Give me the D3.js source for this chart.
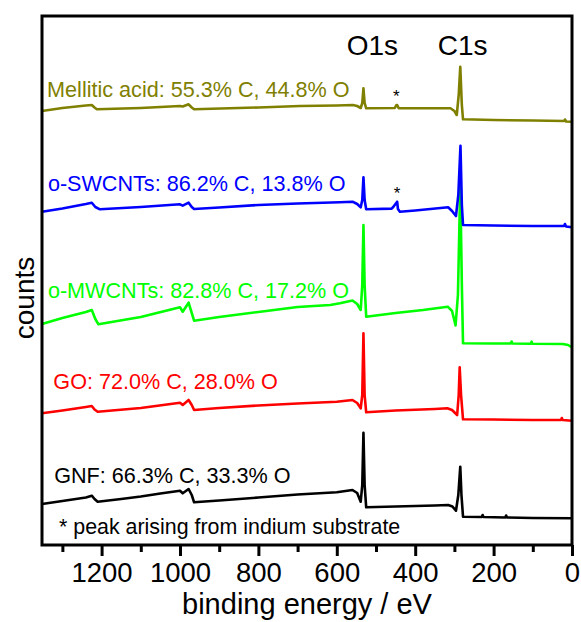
<!DOCTYPE html>
<html>
<head>
<meta charset="utf-8">
<script src="https://cdn.jsdelivr.net/npm/d3@7/dist/d3.min.js"></script>
<style>
  html, body { margin: 0; padding: 0; background: #fff; }
  svg { display: block; font-family: "Liberation Sans", Arial, sans-serif; }
</style>
</head>
<body>
<svg id="chart" width="581" height="622"></svg>
<script>
// ---- data: [binding energy (eV), counts (a.u.)] ----
const gnf = [[1352,41],[1300,44],[1240,47.5],[1225,49.3],[1218,46],[1210,43.3],[1150,46],[1100,48.5],[1050,51.5],[1000,54.3],[993,51.7],[978,56],[970,50],[964,42.7],[900,44.5],[800,47.5],[700,50.5],[600,52.7],[560,55],[548,52],[539,43.3],[535,60],[532,112.3],[529,60],[525,37.7],[450,38.5],[350,39.5],[316,40],[305,38.5],[296,34.3],[290,50],[285,78.3],[282,50],[278,28.3],[230,28],[228,30],[226,28],[170,27.5],[168,29.5],[166,27.5],[100,27],[0,26.7]];
const go = [[1352,131.7],[1300,134.5],[1240,138],[1225,139],[1218,135.5],[1210,133.3],[1100,137],[1000,142.3],[993,140],[978,145],[970,140],[964,135],[900,137],[800,139.5],[700,141.5],[600,143.3],[560,145],[548,142],[539,136.7],[535,150],[532,211.7],[529,150],[525,132.7],[450,134.5],[350,136],[318,136.7],[306,135],[293,130],[289,150],[286.5,177.7],[283,150],[278,125.7],[200,125.5],[100,125],[28,125],[26,127],[24,125],[0,124.3]];
const omwcnt = [[1352,221],[1300,227],[1240,233],[1225,235],[1216,226],[1208,220.7],[1100,228],[1000,237.7],[993,233.3],[978,242.3],[970,232],[964,224.3],[900,228],[800,233],[700,238],[617,240],[592,241.7],[560,244.5],[548,241],[539,235],[535,260],[532,320],[529,260],[525,228.3],[450,232],[380,235],[317,238.3],[306,234],[297,219.5],[291,250],[285,360],[281,260],[278,201.7],[200,201.5],[156,201.5],[154,203.5],[152,201.5],[105,201.3],[103,203.3],[101,201.3],[23,201],[10,200],[0,197.7]];
const oswcnt = [[1352,333.3],[1300,336.5],[1240,341],[1225,342.3],[1216,338],[1204,335.7],[1100,338],[1000,340.7],[993,339.3],[978,342.3],[970,338],[964,336],[900,337.5],[800,340],[700,341.5],[592,342.7],[560,343.3],[548,341],[539,337.7],[535,345],[532,367.7],[529,345],[525,335.7],[460,336.4],[456,338],[446,343.3],[444,336],[439,333.3],[400,334.5],[316,337.7],[306,334],[296,329],[290,350],[284.5,399.3],[281,340],[278,320],[200,319.5],[100,319],[20,319],[18,321],[15,318.5],[0,317.7]];
const mellitic = [[1352,434],[1300,437],[1240,439.5],[1225,440],[1218,437.5],[1212,435.7],[1100,437],[1000,439],[993,438.5],[978,440.7],[970,437.5],[964,435.7],[800,437.5],[694,439],[600,439.5],[559,440],[548,439],[539,437],[535,442],[532,456.7],[529,442],[525,436.7],[452,437],[448,440],[446,440],[442,436.7],[400,436.7],[310,436.7],[300,434],[294,430],[289,450],[285,478.3],[281,440],[278,425.7],[200,425],[100,424.5],[20,424],[18,425.5],[15,423.5],[0,423.3]];

const seriesNames = ["GNF","GO","o-MWCNTs","o-SWCNTs","Mellitic acid"];
const seriesLabels = ["GNF: 66.3% C, 33.3% O","GO: 72.0% C, 28.0% O","o-MWCNTs: 82.8% C, 17.2% O","o-SWCNTs: 86.2% C, 13.8% O","Mellitic acid: 55.3% C, 44.8% O"];
const seriesColors = ["#000000","#ff0000","#00ff00","#0000ff","#808000"];
const seriesData = [gnf, go, omwcnt, oswcnt, mellitic];
const labelCounts = [61.7, 155.7, 246.7, 354, 448.5];   // label baseline in counts units
const labelBE = [1321, 1323, 1337, 1337, 1339];

const majorTicks = [0,200,400,600,800,1000,1200];
const minorTicks = [100,300,500,700,900,1100,1300];
const peakNames = ["O1s","C1s"];
const peakBE = [532, 284];
const substrateBE = [448, 446];
const substrateCounts = [443, 346];
const footnote = "* peak arising from indium substrate";

// ---- layout ----
const L = 42, R = 572, T = 16, B = 545;
const svg = d3.select("#chart");
const x = d3.scaleLinear().domain([1352, 0]).range([L, R]);
const y = d3.scaleLinear().domain([0, 529]).range([B, T]);

// series lines
const line = d3.line().x(d => x(d[0])).y(d => y(d[1]));
seriesData.forEach((d, i) => {
  svg.append("path").datum(d)
    .attr("fill", "none")
    .attr("stroke", seriesColors[i])
    .attr("stroke-width", 2.6)
    .attr("stroke-linejoin", "round")
    .attr("d", line);
});

// series labels
seriesLabels.forEach((t, i) => {
  svg.append("text")
    .attr("x", x(labelBE[i]))
    .attr("y", y(labelCounts[i]))
    .attr("fill", seriesColors[i])
    .attr("font-size", 21.6)
    .text(t);
});

// peak labels
peakNames.forEach((t, i) => {
  svg.append("text")
    .attr("x", x(peakBE[i]) + (i === 0 ? 9 : 2))
    .attr("y", 55)
    .attr("text-anchor", "middle")
    .attr("font-size", 28)
    .text(t);
});

// asterisks
substrateBE.forEach((b, i) => {
  svg.append("text")
    .attr("x", x(b))
    .attr("y", y(substrateCounts[i]))
    .attr("text-anchor", "middle")
    .attr("font-size", 17)
    .text("*");
});

// footnote
svg.append("text")
  .attr("x", 59)
  .attr("y", 534)
  .attr("font-size", 21.4)
  .text(footnote);

// frame
svg.append("rect")
  .attr("x", L).attr("y", T)
  .attr("width", R - L).attr("height", B - T)
  .attr("fill", "none").attr("stroke", "#000").attr("stroke-width", 3);

// axes
const ax = svg.append("g").attr("transform", `translate(0,${B})`)
  .call(d3.axisBottom(x).tickValues(majorTicks).tickSize(11).tickSizeOuter(0).tickPadding(6).tickFormat(d3.format("d")));
ax.select(".domain").remove();
ax.selectAll(".tick line").attr("stroke-width", 3);
ax.selectAll(".tick text").attr("font-size", 27.5).attr("font-family", "Liberation Sans, Arial, sans-serif").attr("fill", "#000");

const axm = svg.append("g").attr("transform", `translate(0,${B})`)
  .call(d3.axisBottom(x).tickValues(minorTicks).tickSize(7).tickSizeOuter(0).tickFormat(""));
axm.select(".domain").remove();
axm.selectAll(".tick line").attr("stroke-width", 3);

// axis titles
svg.append("text")
  .attr("x", (L + R) / 2)
  .attr("y", 614)
  .attr("text-anchor", "middle")
  .attr("font-size", 29)
  .text("binding energy / eV");

svg.append("text")
  .attr("transform", "translate(34,298) rotate(-90)")
  .attr("text-anchor", "middle")
  .attr("font-size", 28)
  .text("counts");
</script>
</body>
</html>
